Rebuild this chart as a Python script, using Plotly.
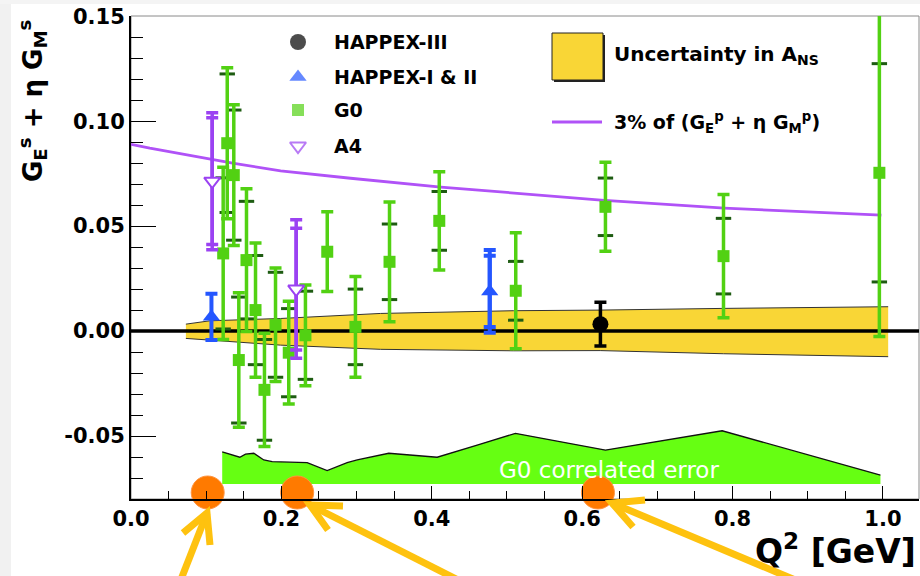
import plotly.graph_objects as go

# ---------------- data ----------------
g0_q2 = [0.1226, 0.128, 0.1367, 0.1434, 0.1536, 0.1656, 0.1775, 0.1922, 0.2098,
         0.232, 0.261, 0.2985, 0.3438, 0.410, 0.5117, 0.631, 0.788, 0.9953]
g0_val = [0.037, 0.0895, 0.0743, -0.0138, 0.0338, 0.010, -0.028, 0.003, -0.0103,
          -0.002, 0.0378, 0.002, 0.033, 0.0525, 0.0192, 0.0592, 0.0357, 0.0754]
g0_tot = [0.041, 0.036, 0.0335, 0.032, 0.034, 0.032, 0.027, 0.027, 0.0245,
          0.024, 0.019, 0.024, 0.0285, 0.0234, 0.0276, 0.0212, 0.0294, 0.078]
g0_stat = [0.036, 0.033, 0.031, 0.030, 0.028, 0.026, 0.024, 0.025, 0.021,
           0.021, None, 0.018, 0.018, 0.014, 0.014, 0.0137, 0.018, 0.052]

a4_q2 = [0.108, 0.2197]
a4_val = [0.0714, 0.020]
a4_tot = [0.0326, 0.033]
a4_stat = [0.0302, 0.029]

hap12_q2 = [0.107, 0.4771]
hap12_val = [0.0068, 0.0189]
hap12_tot = [0.011, 0.0197]
hap12_stat = [None, 0.017]

hap3_q2 = [0.6243]
hap3_val = [0.0033]
hap3_tot = [0.0104]

line_q2 = [0.0, 0.025, 0.137, 0.199, 0.292, 0.412, 0.625, 0.789, 0.998]
line_val = [0.089, 0.0871, 0.0799, 0.0763, 0.0728, 0.0686, 0.0624, 0.0586, 0.0552]

band_q2 = [0.073, 0.105, 0.199, 0.332, 0.509, 0.624, 0.788, 1.007]
band_hi = [0.0033, 0.0049, 0.0060, 0.0084, 0.0097, 0.0100, 0.0108, 0.0116]
band_lo = [-0.0035, -0.0043, -0.0067, -0.0087, -0.0094, -0.0093, -0.0108, -0.0122]

corr_q2 = [0.1213, 0.1323, 0.1447, 0.1523, 0.1633, 0.1766, 0.1878, 0.2343, 0.2609,
           0.2875, 0.3008, 0.3428, 0.4072, 0.4604, 0.5113, 0.631, 0.7862, 0.9967]
corr_top = [-0.0575, -0.0586, -0.0601, -0.0586, -0.0582, -0.0614, -0.0622, -0.0627, -0.0665,
            -0.0627, -0.0614, -0.0582, -0.0601, -0.0543, -0.0487, -0.0567, -0.0475, -0.0686]
corr_base = -0.0729

highlight_q2 = [0.102, 0.221, 0.621]
highlight_y = -0.0769

x_ticks = [0.0, 0.2, 0.4, 0.6, 0.8, 1.0]
y_ticks = [-0.05, 0.0, 0.05, 0.10, 0.15]
X_RANGE = [0.0, 1.048]
Y_RANGE = [-0.08, 0.1501]

# ---------------- styles ----------------
G0C = "#52d113"
G0DARK = "#1e5c12"
A4C = "#9b42f2"
LINEC = "#b052f7"
BLUEC = "#2456ff"
BANDC = "#f9d636"
CORRC = "#66ff12"
ORANGE = "#ff7a00"
ARROWC = "#fec20f"
FONT = "DejaVu Sans"

W, H = 920, 576
L, R, T, B = 131, 1, 16, 77
PW, PH = W - L - R, H - T - B


def px(x):
    return (x - L) / PW


def py(y):
    return (H - B - y) / PH


fig = go.Figure()

# uncertainty band
fig.add_trace(go.Scatter(x=band_q2, y=band_lo, mode="lines",
                         line=dict(color="#333", width=1), hoverinfo="skip", showlegend=False))
fig.add_trace(go.Scatter(x=band_q2, y=band_hi, mode="lines", fill="tonexty", fillcolor=BANDC,
                         line=dict(color="#333", width=1), hoverinfo="skip", showlegend=False))

# G0 correlated error
fig.add_trace(go.Scatter(x=corr_q2 + [corr_q2[-1], corr_q2[0]],
                         y=corr_top + [corr_base, corr_base],
                         mode="lines", fill="toself", fillcolor=CORRC,
                         line=dict(width=0, color=CORRC), hoverinfo="skip", showlegend=False))
fig.add_trace(go.Scatter(x=corr_q2, y=corr_top, mode="lines",
                         line=dict(color="#111", width=1.3), hoverinfo="skip", showlegend=False))

# zero line
fig.add_trace(go.Scatter(x=X_RANGE, y=[0, 0], mode="lines",
                         line=dict(color="black", width=3.5), hoverinfo="skip", showlegend=False))

# 3% line
fig.add_trace(go.Scatter(x=line_q2, y=line_val, mode="lines",
                         line=dict(color=LINEC, width=2.8), showlegend=False))

# G0 stat ticks
sx, sy = [], []
for q, v, s in zip(g0_q2, g0_val, g0_stat):
    if s is not None:
        sx += [q, q]
        sy += [v + s, v - s]
fig.add_trace(go.Scatter(x=sx, y=sy, mode="markers",
                         marker=dict(symbol="line-ew", size=11, line=dict(color=G0DARK, width=3)),
                         hoverinfo="skip", showlegend=False))

# G0 points
fig.add_trace(go.Scatter(x=g0_q2, y=g0_val, mode="markers",
                         marker=dict(symbol="square", size=12, color=G0C),
                         error_y=dict(type="data", array=g0_tot, color=G0C, thickness=3.5, width=6),
                         showlegend=False))

# A4
fig.add_trace(go.Scatter(x=a4_q2, y=a4_val, mode="markers", marker=dict(size=1, opacity=0),
                         error_y=dict(type="data", array=a4_stat, color=A4C, thickness=3.5, width=6),
                         hoverinfo="skip", showlegend=False))
fig.add_trace(go.Scatter(x=a4_q2, y=a4_val, mode="markers",
                         marker=dict(symbol="triangle-down", size=14, color="white",
                                     line=dict(color=A4C, width=2)),
                         error_y=dict(type="data", array=a4_tot, color=A4C, thickness=3.5, width=6),
                         showlegend=False))

# HAPPEX-I & II
hx = [q for q, s in zip(hap12_q2, hap12_stat) if s is not None]
hy = [v for v, s in zip(hap12_val, hap12_stat) if s is not None]
hs = [s for s in hap12_stat if s is not None]
fig.add_trace(go.Scatter(x=hx, y=hy, mode="markers", marker=dict(size=1, opacity=0),
                         error_y=dict(type="data", array=hs, color=BLUEC, thickness=4, width=6),
                         hoverinfo="skip", showlegend=False))
fig.add_trace(go.Scatter(x=hap12_q2, y=hap12_val, mode="markers",
                         marker=dict(symbol="triangle-up", size=15, color=BLUEC),
                         error_y=dict(type="data", array=hap12_tot, color=BLUEC, thickness=4, width=6),
                         showlegend=False))

# HAPPEX-III
fig.add_trace(go.Scatter(x=hap3_q2, y=hap3_val, mode="markers",
                         marker=dict(symbol="circle", size=16, color="black"),
                         error_y=dict(type="data", array=hap3_tot, color="black", thickness=3.5, width=6),
                         showlegend=False))

# orange highlight dots
fig.add_trace(go.Scatter(x=highlight_q2, y=[highlight_y] * len(highlight_q2), mode="markers",
                         marker=dict(size=33, color=ORANGE, line=dict(color="#ff9440", width=1)),
                         cliponaxis=False, hoverinfo="skip", showlegend=False))

# ---------------- legend (overlay pixel axis) ----------------
leg_x = [298, 298, 298, 298]
leg_y = [42, 77, 110, 146]
leg_sym = ["circle", "triangle-up", "square", "triangle-down"]
leg_col = ["black", BLUEC, G0C, "white"]
leg_line = ["black", BLUEC, G0C, A4C]
leg_size = [16, 15, 12, 14]
leg_text = ["HAPPEX-III", "HAPPEX-I &amp; II", "G0", "A4"]
fig.add_trace(go.Scatter(x=leg_x, y=leg_y, xaxis="x2", yaxis="y2", mode="markers",
                         marker=dict(symbol=leg_sym, size=leg_size, color=leg_col,
                                     line=dict(color=leg_line, width=[0, 0, 0, 2])),
                         cliponaxis=False, hoverinfo="skip", showlegend=False))

annotations = []
for t, yy in zip(leg_text, leg_y):
    annotations.append(dict(x=px(332), y=py(yy), xref="paper", yref="paper", text=t,
                            showarrow=False, xanchor="left", yanchor="middle",
                            font=dict(family=FONT, size=19, color="black", weight="bold")))
annotations.append(dict(x=px(612), y=py(55), xref="paper", yref="paper",
                        text="Uncertainty in A<sub>NS</sub>", showarrow=False,
                        xanchor="left", yanchor="middle",
                        font=dict(family=FONT, size=20, color="black", weight="bold")))
annotations.append(dict(x=px(612), y=py(122), xref="paper", yref="paper",
                        text="3% of (G<sub>E</sub><sup>p</sup> + η G<sub>M</sub><sup>p</sup>)",
                        showarrow=False, xanchor="left", yanchor="middle",
                        font=dict(family=FONT, size=19, color="black", weight="bold")))
# axis titles
annotations.append(dict(x=px(32), y=py(101), xref="paper", yref="paper",
                        text="G<sub>E</sub><sup>s</sup> + η G<sub>M</sub><sup>s</sup>",
                        textangle=-90, showarrow=False, xanchor="center", yanchor="middle",
                        font=dict(family=FONT, size=26, color="black", weight="bold")))
annotations.append(dict(x=px(918), y=py(549), xref="paper", yref="paper",
                        text="Q<sup>2</sup> [GeV]", showarrow=False,
                        xanchor="right", yanchor="middle",
                        font=dict(family=FONT, size=33, color="black", weight="bold")))
# band label
annotations.append(dict(x=0.636, y=-0.0662, xref="x", yref="y", text="G0 correlated error",
                        showarrow=False, xanchor="center", yanchor="middle",
                        font=dict(family=FONT, size=23, color="white")))

shapes = []
# screenshot shading
shapes.append(dict(type="rect", xref="paper", yref="paper", x0=px(0), x1=px(11), y0=py(0), y1=py(576),
                   fillcolor="#f1f1f1", line=dict(width=0), layer="below"))
shapes.append(dict(type="rect", xref="paper", yref="paper", x0=px(0), x1=px(920), y0=py(0), y1=py(4),
                   fillcolor="#f4f4f4", line=dict(width=0), layer="below"))
# frame
shapes.append(dict(type="rect", xref="paper", yref="paper", x0=0, x1=1, y0=0, y1=1,
                   line=dict(color="#8a8a8a", width=1), layer="below"))
# legend box
shapes.append(dict(type="rect", xref="paper", yref="paper", x0=px(554), x1=px(605), y0=py(35), y1=py(82),
                   fillcolor="#222", line=dict(width=0), layer="above"))
shapes.append(dict(type="rect", xref="paper", yref="paper", x0=px(552), x1=px(603), y0=py(33), y1=py(80),
                   fillcolor=BANDC, line=dict(color="#222", width=1), layer="above"))
shapes.append(dict(type="line", xref="paper", yref="paper", x0=px(552), x1=px(602), y0=py(122), y1=py(122),
                   line=dict(color=LINEC, width=3), layer="above"))

# arrows
arrows = [
    ((180, 582), (207, 513), (183, 533), (210, 545)),
    ((462, 582), (310, 505), (343, 506), (328, 530)),
    ((800, 582), (612, 503), (645, 500), (633, 527)),
]
for tail, tip, a1, a2 in arrows:
    shapes.append(dict(type="line", xref="paper", yref="paper",
                       x0=px(tail[0]), y0=py(tail[1]), x1=px(tip[0]), y1=py(tip[1]),
                       line=dict(color=ARROWC, width=7), layer="above"))
    path = "M {} {} L {} {} L {} {}".format(px(a1[0]), py(a1[1]), px(tip[0]), py(tip[1]),
                                             px(a2[0]), py(a2[1]))
    shapes.append(dict(type="path", xref="paper", yref="paper", path=path,
                       line=dict(color=ARROWC, width=7), layer="above"))

fig.update_layout(
    width=W, height=H,
    margin=dict(l=L, r=R, t=T, b=B, pad=0),
    paper_bgcolor="white", plot_bgcolor="white",
    showlegend=False,
    annotations=annotations,
    shapes=shapes,
    xaxis=dict(range=X_RANGE, tickvals=x_ticks, ticktext=["%.1f" % v for v in x_ticks],
               ticks="inside", ticklen=13, tickwidth=1.3, tickcolor="black",
               minor=dict(ticks="inside", ticklen=8, dtick=0.05, tick0=0, tickwidth=1.3,
                          tickcolor="black", showgrid=False),
               showline=True, linecolor="black", linewidth=2, showgrid=False, zeroline=False,
               tickfont=dict(family=FONT, size=21, color="black", weight="bold")),
    yaxis=dict(range=Y_RANGE, tickvals=y_ticks, ticktext=["%.2f" % v for v in y_ticks],
               ticks="inside", ticklen=25, tickwidth=1.3, tickcolor="black",
               minor=dict(ticks="inside", ticklen=12, dtick=0.01, tick0=0, tickwidth=1.3,
                          tickcolor="black", showgrid=False),
               showline=True, linecolor="black", linewidth=2, showgrid=False, zeroline=False,
               tickfont=dict(family=FONT, size=21, color="black", weight="bold")),
    xaxis2=dict(overlaying="x", range=[L, L + PW], visible=False, anchor="y2"),
    yaxis2=dict(overlaying="y", range=[H - B, T], visible=False, anchor="x2"),
)

fig.write_html("out.html")
